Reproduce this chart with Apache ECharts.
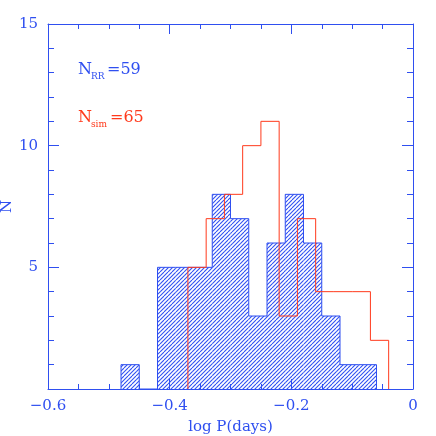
<!DOCTYPE html>
<html><head><meta charset="utf-8">
<script src="https://cdn.jsdelivr.net/npm/echarts@6/dist/echarts.min.js"></script>
<style>html,body{margin:0;padding:0;background:#fff}#c{width:436px;height:436px}</style>
</head><body><div id="c"></div>
<script>
// ---- data ----
const binWidth = 0.03;
const rrStart = -0.48;            // left edge of first observed-RR bin
const rrCounts = [1, 0, 5, 5, 5, 8, 7, 3, 6, 8, 6, 3, 1, 1];
const simStart = -0.37;           // left edge of first simulated bin
const simCounts = [5, 7, 8, 10, 11, 3, 7, 4, 4, 4, 2];
const xLabelText = 'log P(days)';
const yLabelText = 'N';
const rrLabel = ['N', 'RR', '=59'];
const simLabel = ['N', 'sim', '=65'];

const BLUE = '#2f4ff0';
const HATCH = '#2f50f2';
const RED = '#ff3a1c';
const FONT = 'DejaVu Serif';

function r3(v){ return Math.round(v*10000)/10000; }
function bins(start, counts){
  return counts.map((c,i)=>({l:r3(start+i*binWidth), r:r3(start+(i+1)*binWidth), v:c}));
}
function outline(start, counts){
  const b = bins(start, counts);
  const pts = [[b[0].l, 0]];
  b.forEach(o=>{ pts.push([o.l,o.v]); pts.push([o.r,o.v]); });
  pts.push([b[b.length-1].r, 0]);
  return pts;
}
// hatch pattern: diagonal lines every 4px
const pat = document.createElement('canvas');
pat.width = 8; pat.height = 8;
(function(){
  const g = pat.getContext('2d');
  g.strokeStyle = HATCH; g.lineWidth = 1.1;
  for (const k of [-8, -4, 0, 4, 8]) {
    g.beginPath(); g.moveTo(k, 8); g.lineTo(k+8, 0); g.stroke();
  }
})();

const rrBins = bins(rrStart, rrCounts);

const chart = echarts.init(document.getElementById('c'), null, {renderer:'canvas'});
const tickCommon = {
  axisLine:{show:true, onZero:false, lineStyle:{color:BLUE, width:1}},
  splitLine:{show:false},
};
const xFmt = v => Math.abs(v) < 1e-9 ? '0' : (v<0?'\u2212':'') + Math.abs(v).toFixed(1);
chart.setOption({
  animation:false,
  grid:{left:48, right:23, top:24, bottom:47, containLabel:false, outerBoundsMode:'none'},
  xAxis:[
    Object.assign({type:'value', min:-0.6, max:0, interval:0.2, position:'bottom',
      axisTick:{inside:true, length:10, lineStyle:{color:BLUE}},
      minorTick:{show:true, splitNumber:4, length:5, lineStyle:{color:BLUE}},
      axisLabel:{color:BLUE, fontFamily:FONT, fontSize:15, margin:10, formatter:xFmt},
      name:xLabelText, nameLocation:'middle', nameGap:31, nameMoveOverlap:false,
      nameTextStyle:{color:BLUE, fontFamily:FONT, fontSize:15}}, tickCommon),
    Object.assign({type:'value', min:-0.6, max:0, interval:0.2, position:'top',
      axisTick:{inside:true, length:10, lineStyle:{color:BLUE}},
      minorTick:{show:true, splitNumber:4, length:5, lineStyle:{color:BLUE}},
      axisLabel:{show:false}}, tickCommon)
  ],
  yAxis:[
    Object.assign({type:'value', min:0, max:15, interval:5, position:'left',
      axisTick:{inside:true, length:11, lineStyle:{color:BLUE}},
      minorTick:{show:true, splitNumber:5, length:6, lineStyle:{color:BLUE}},
      axisLabel:{color:BLUE, fontFamily:FONT, fontSize:15, margin:10,
        formatter:v=> v===0 ? '' : String(v)},
      name:yLabelText, nameLocation:'middle', nameGap:33, nameRotate:90, nameMoveOverlap:false,
      nameTextStyle:{color:BLUE, fontFamily:FONT, fontSize:15}}, tickCommon),
    Object.assign({type:'value', min:0, max:15, interval:5, position:'right',
      axisTick:{inside:true, length:11, lineStyle:{color:BLUE}},
      minorTick:{show:true, splitNumber:5, length:6, lineStyle:{color:BLUE}},
      axisLabel:{show:false}}, tickCommon)
  ],
  series:[
    {
      type:'custom', xAxisIndex:0, yAxisIndex:0, z:2,
      data: rrBins.map(o=>[o.l, o.r, o.v]),
      renderItem:(params, api)=>{
        const l = api.value(0), r = api.value(1), v = api.value(2);
        if (!v) return;
        const p0 = api.coord([l, v]), p1 = api.coord([r, 0]);
        return {type:'rect', shape:{x:p0[0], y:p0[1], width:p1[0]-p0[0], height:p1[1]-p0[1]},
          style:{fill:{image:pat, repeat:'repeat'}, stroke:null}};
      }
    },
    {
      type:'line', xAxisIndex:0, yAxisIndex:0, z:3, showSymbol:false, symbol:'none',
      data: outline(rrStart, rrCounts), lineStyle:{color:BLUE, width:1}
    },
    {
      type:'line', xAxisIndex:0, yAxisIndex:0, z:4, showSymbol:false, symbol:'none',
      data: outline(simStart, simCounts), lineStyle:{color:RED, width:1}
    }
  ],
  graphic:[
    {type:'text', left:78, top:62, style:{text:rrLabel[0], fill:BLUE, font:'16px "'+FONT+'"'}},
    {type:'text', left:91, top:72, style:{text:rrLabel[1], fill:BLUE, font:'9px "'+FONT+'"'}},
    {type:'text', left:107, top:62, style:{text:rrLabel[2], fill:BLUE, font:'16px "'+FONT+'"'}},
    {type:'text', left:78, top:110, style:{text:simLabel[0], fill:RED, font:'16px "'+FONT+'"'}},
    {type:'text', left:91, top:120, style:{text:simLabel[1], fill:RED, font:'9px "'+FONT+'"'}},
    {type:'text', left:110, top:110, style:{text:simLabel[2], fill:RED, font:'16px "'+FONT+'"'}}
  ]
});
</script></body></html>
